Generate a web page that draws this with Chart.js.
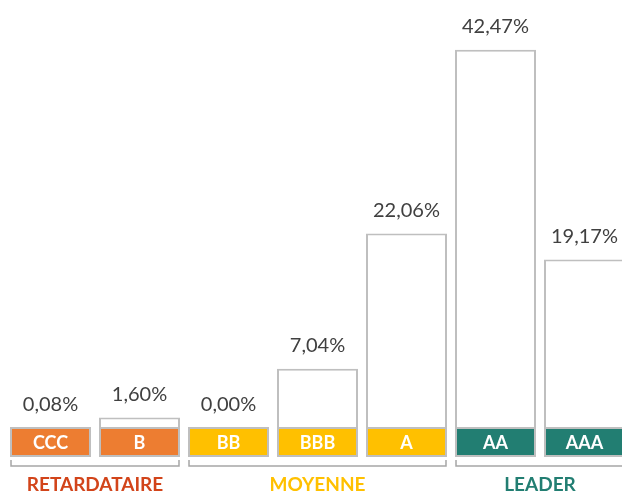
<!DOCTYPE html>
<html>
<head>
<meta charset="utf-8">
<script src="https://cdn.jsdelivr.net/npm/chart.js@4/dist/chart.umd.min.js"></script>
<style>
  html, body { margin: 0; padding: 0; background: #fff; overflow: hidden; }
  canvas { display: block; }
</style>
</head>
<body>
<canvas id="chart" width="630" height="491"></canvas>
<script>
// ratings, share of each rating, and which group each rating belongs to
const ratings = ['CCC', 'B', 'BB', 'BBB', 'A', 'AA', 'AAA'];
const shares = [0.08, 1.60, 0.00, 7.04, 22.06, 42.47, 19.17];
const groupNames = ['RETARDATAIRE', 'MOYENNE', 'LEADER'];
const groupOfRating = [0, 0, 1, 1, 1, 2, 2];

const groupColors = ['#ED7D31', '#FFC000', '#227E72'];
const groupTextColors = ['#D2441A', '#FFC000', '#227E72'];
const BORDER = '#BFBFBF';
const FONT = 'Lato, "Open Sans", sans-serif';

// the coloured rating tag under each column, as a floating bar (value units)
const TAG_TOP = 0.55;
const TAG_BOTTOM = -2.78;

function fmt(v) {
    return v.toFixed(2).replace('.', ',') + '%';
}

const overlayPlugin = {
    id: 'overlay',
    afterDatasetsDraw(chart) {
        const ctx = chart.ctx;
        const valueBars = chart.getDatasetMeta(0).data;
        const tagBars = chart.getDatasetMeta(1).data;

        ctx.save();
        ctx.textAlign = 'center';
        ctx.textBaseline = 'middle';

        // rating names inside the tags
        ctx.font = 'bold 18px ' + FONT;
        ctx.fillStyle = '#FFFFFF';
        tagBars.forEach((bar, i) => {
            ctx.fillText(ratings[i], bar.x, (bar.y + bar.base) / 2 + 1);
        });

        // values above columns
        ctx.font = '20px ' + FONT;
        ctx.fillStyle = '#404040';
        valueBars.forEach((bar, i) => {
            const tagTop = Math.min(tagBars[i].y, tagBars[i].base);
            const top = Math.min(bar.y, tagTop);
            ctx.fillText(fmt(shares[i]), bar.x, top - 23);
        });

        // group brackets and names
        const tagBottom = Math.max(tagBars[0].y, tagBars[0].base);
        const yBracket = tagBottom + 9;
        groupNames.forEach((name, g) => {
            const idx = groupOfRating.map((v, i) => v === g ? i : -1).filter(i => i >= 0);
            const first = tagBars[idx[0]];
            const last = tagBars[idx[idx.length - 1]];
            const x0 = first.x - first.width / 2 + 1;
            const x1 = last.x + last.width / 2 - 1;
            ctx.strokeStyle = '#A6A6A6';
            ctx.lineWidth = 1.5;
            ctx.beginPath();
            ctx.moveTo(x0, yBracket - 6);
            ctx.lineTo(x0, yBracket);
            ctx.lineTo(x1, yBracket);
            ctx.lineTo(x1, yBracket - 6);
            ctx.stroke();

            ctx.font = 'bold 19px ' + FONT;
            ctx.fillStyle = groupTextColors[g];
            const mid = (first.x + last.x) / 2;
            ctx.fillText(name, mid, yBracket + 19);
        });
        ctx.restore();
    }
};

new Chart(document.getElementById('chart'), {
    type: 'bar',
    data: {
        labels: ratings,
        datasets: [
            {
                data: shares,
                backgroundColor: '#FFFFFF',
                borderColor: BORDER,
                borderWidth: 2,
                order: 2
            },
            {
                data: ratings.map(() => [TAG_BOTTOM, TAG_TOP]),
                backgroundColor: groupOfRating.map(g => groupColors[g]),
                borderColor: BORDER,
                borderWidth: 2,
                borderSkipped: false,
                order: 1
            }
        ]
    },
    options: {
        responsive: false,
        animation: false,
        layout: { padding: { left: 6, right: 1, top: 27, bottom: 32 } },
        datasets: {
            bar: { grouped: false, barPercentage: 0.91, categoryPercentage: 1 }
        },
        plugins: {
            legend: { display: false },
            tooltip: { enabled: false }
        },
        scales: {
            x: { display: false },
            y: { display: false, min: -3, max: 45 }
        }
    },
    plugins: [overlayPlugin]
});
</script>
</body>
</html>
